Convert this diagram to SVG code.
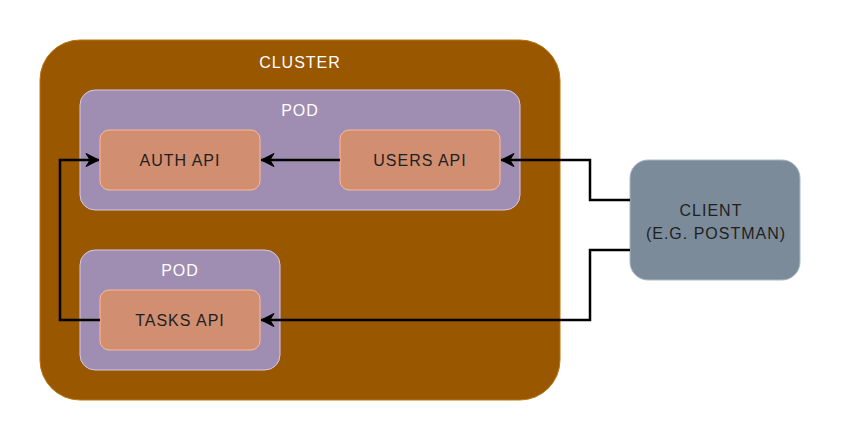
<svg xmlns="http://www.w3.org/2000/svg" width="841" height="441" viewBox="0 0 841 441">
<defs>
<style>
.cluster{fill:#995700;stroke:#b8760f;stroke-width:1}
.pod{fill:#a08db2;stroke:#d6c8ea;stroke-width:1}
.api{fill:#d18e70;stroke:#ffb896;stroke-width:1}
.client{fill:#7b8b9a;stroke:#a9b8c6;stroke-width:1}
.lbl{font-family:"Liberation Sans",Arial,sans-serif;font-size:16px;text-anchor:middle;letter-spacing:1px}
.w{fill:#ffffff}
.d{fill:#1f1f1f}
.edge{fill:none;stroke:#000000;stroke-width:2.5}
</style>
<marker id="arr" viewBox="-14 -7 15 14" refX="0" refY="0" markerWidth="15" markerHeight="14" markerUnits="userSpaceOnUse" orient="auto" overflow="visible">
<path d="M0,0 L-13,-6.5 L-9,0 L-13,6.5 Z" fill="#000" stroke="#000" stroke-width="1" stroke-linejoin="miter"/>
</marker>
</defs>
<rect width="841" height="441" fill="#ffffff"/>
<g id="cluster">
<rect class="cluster" x="40" y="40" width="520" height="360" rx="40" ry="40"/>
<text class="lbl w" x="300" y="68">CLUSTER</text>
</g>
<g id="pod1">
<rect class="pod" x="80" y="90" width="440" height="120" rx="15" ry="15"/>
<text class="lbl w" x="300" y="116">POD</text>
</g>
<g id="pod2">
<rect class="pod" x="80" y="250" width="200" height="120" rx="15" ry="15"/>
<text class="lbl w" x="180" y="276">POD</text>
</g>
<g id="auth-api">
<rect class="api" x="100" y="130" width="160" height="60" rx="9" ry="9"/>
<text class="lbl d" x="180" y="166">AUTH API</text>
</g>
<g id="users-api">
<rect class="api" x="340" y="130" width="160" height="60" rx="9" ry="9"/>
<text class="lbl d" x="420" y="166">USERS API</text>
</g>
<g id="tasks-api">
<rect class="api" x="100" y="290" width="160" height="60" rx="9" ry="9"/>
<text class="lbl d" x="180" y="326">TASKS API</text>
</g>
<g id="client">
<rect class="client" x="630" y="160" width="170" height="120" rx="18" ry="18"/>
<text class="lbl d" x="711" y="216">CLIENT</text>
<text class="lbl d" x="716" y="239">(E.G. POSTMAN)</text>
</g>
<g id="connectors">
<path class="edge" d="M630,200 H590 V160 H501" marker-end="url(#arr)"/>
<path class="edge" d="M630,250 H590 V320 H261" marker-end="url(#arr)"/>
<path class="edge" d="M340,160 H261" marker-end="url(#arr)"/>
<path class="edge" d="M100,320 H60 V160 H99" marker-end="url(#arr)"/>
</g>
</svg>
